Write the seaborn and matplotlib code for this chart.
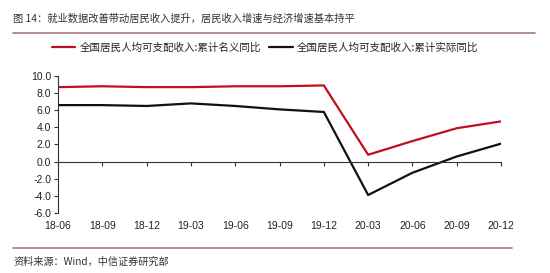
import matplotlib
matplotlib.use("Agg")
import matplotlib.pyplot as plt
import seaborn as sns
import pandas as pd
from matplotlib.lines import Line2D

periods = ["18-06", "18-09", "18-12", "19-03", "19-06", "19-09", "19-12",
           "20-03", "20-06", "20-09", "20-12"]
nominal = [8.7, 8.8, 8.7, 8.7, 8.8, 8.8, 8.9, 0.8, 2.4, 3.9, 4.7]
real = [6.6, 6.6, 6.5, 6.8, 6.5, 6.1, 5.8, -3.9, -1.3, 0.6, 2.1]
name_nominal = "全国居民人均可支配收入:累计名义同比"
name_real = "全国居民人均可支配收入:累计实际同比"
yticks = [-6.0, -4.0, -2.0, 0.0, 2.0, 4.0, 6.0, 8.0, 10.0]

sns.set_style("white")
plt.rcParams["font.family"] = ["Liberation Sans", "Noto Sans CJK SC", "DejaVu Sans"]
cjk = ["Noto Sans CJK SC", "DejaVu Sans"]

df = pd.DataFrame({
    "idx": list(range(len(periods))) * 2,
    "value": nominal + real,
    "series": [name_nominal] * len(periods) + [name_real] * len(periods),
})

fig = plt.figure(figsize=(5.5, 2.73), dpi=100)
ax = fig.add_axes([0.1055, 0.2198, 0.8055, 0.5018])
red = "#c0101e"
sns.lineplot(data=df, x="idx", y="value", hue="series",
             palette={name_nominal: red, name_real: "#111111"},
             linewidth=1.6, ax=ax, legend=False)

ax.set_xlim(0, len(periods) - 1)
ax.set_ylim(-6, 10)
ax.set_yticks(yticks)
ax.set_yticklabels([f"{v:.1f}" for v in yticks], fontsize=7.5, color="#222222")
ax.set_xlabel("")
ax.set_ylabel("")
for s in ["top", "right"]:
    ax.spines[s].set_visible(False)
ax.spines["left"].set_color("#333333")
ax.spines["left"].set_linewidth(0.8)
ax.spines["bottom"].set_position(("data", 0))
ax.spines["bottom"].set_color("#333333")
ax.spines["bottom"].set_linewidth(0.8)
ax.set_xticks(range(len(periods)))
ax.set_xticklabels([])
ax.tick_params(axis="x", direction="out", length=3, width=0.8, color="#333333", bottom=True)
ax.tick_params(axis="y", direction="out", length=3, width=0.8, color="#333333", left=True, pad=2)

sec = ax.secondary_xaxis("bottom")
sec.set_xticks(range(len(periods)))
sec.set_xticklabels(periods, fontsize=7.5, color="#222222")
sec.spines["bottom"].set_visible(False)
sec.tick_params(length=0, pad=6)

handles = [Line2D([], [], color=red, lw=1.6), Line2D([], [], color="#111111", lw=1.6)]
leg = fig.legend(handles, [name_nominal, name_real], loc="center",
                 bbox_to_anchor=(0.482, 1 - 48 / 273), ncol=2, frameon=False,
                 prop={"family": cjk, "size": 7.6}, handlelength=2.2,
                 handletextpad=0.4, columnspacing=0.8)

fig.text(13 / 550, 1 - 19 / 273, "图 14：就业数据改善带动居民收入提升，居民收入增速与经济增速基本持平",
         family=cjk, fontsize=7.4, color="#333333", va="center", ha="left")
fig.add_artist(Line2D([13 / 550, 535 / 550], [1 - 33 / 273, 1 - 33 / 273],
                      color="#a87680", lw=1.2, transform=fig.transFigure))
fig.add_artist(Line2D([13 / 550, 512 / 550], [1 - 248 / 273, 1 - 248 / 273],
                      color="#a87680", lw=1.2, transform=fig.transFigure))
fig.text(13 / 550, 1 - 262 / 273, "资料来源：Wind，中信证券研究部",
         family=cjk, fontsize=7.3, color="#333333", va="center", ha="left")

fig.savefig("out.png", dpi=100, facecolor="white")
